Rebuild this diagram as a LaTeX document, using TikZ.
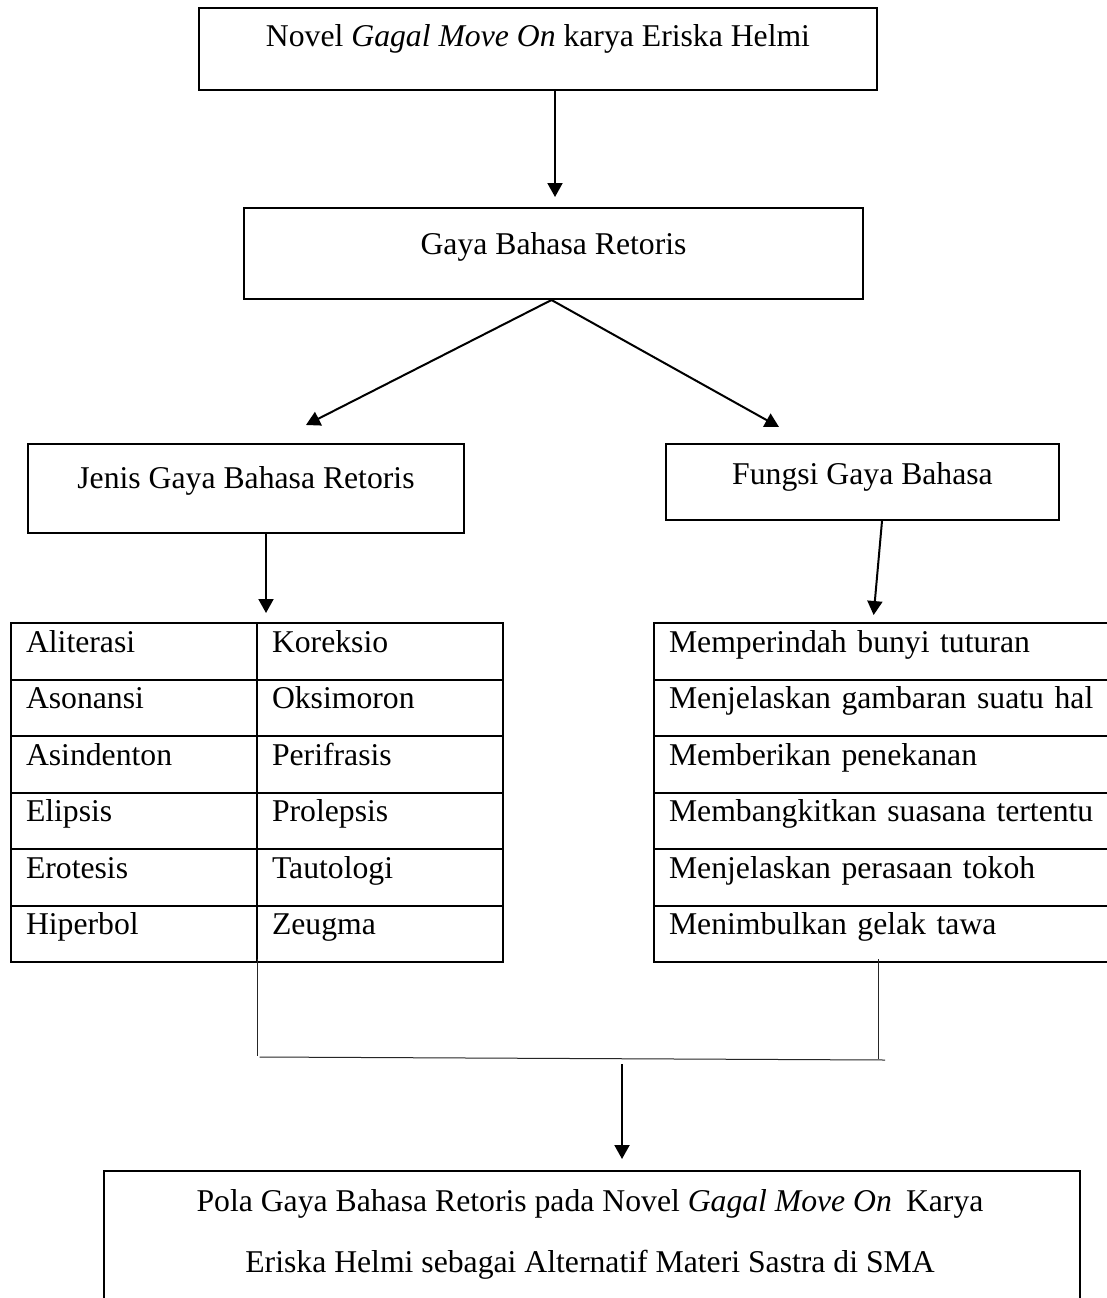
\documentclass[tikz,border=0pt]{standalone}
\usepackage{fontspec}
\setmainfont{Liberation Serif}
\usetikzlibrary{arrows.meta,calc}
\begin{document}
\begin{tikzpicture}[x=1pt,y=-1pt,
  every node/.style={font=\fontsize{31.7pt}{38pt}\selectfont},
  box/.style={draw,line width=2pt,anchor=north west,inner xsep=0pt,inner ysep=0pt},
  cell/.style={draw,line width=2pt,anchor=north west,inner xsep=15pt,inner ysep=0pt,
               text height=29pt,text depth=27.5pt,align=left},
  lcell/.style={cell,text width=216pt},
  rcell/.style={cell,text width=430pt},
  arr/.style={line width=2pt,-{Triangle[length=14pt,width=15pt]}},
  conn/.style={line width=1pt,black!85}]
\useasboundingbox (0,0) rectangle (1106,1298);
\fill[white] (0,0) rectangle (1106,1298);

% boxes
\node[box,minimum width=678pt,text height=39pt,text depth=43pt] (box1) at (198,7)
  {Novel \textit{Gagal Move On} karya Eriska Helmi};
\node[box,minimum width=619pt,text height=46pt,text depth=45pt] (box2) at (243,207)
  {Gaya Bahasa Retoris};
\node[box,minimum width=436pt,text height=44pt,text depth=45pt] (box3) at (27,443)
  {Jenis Gaya Bahasa Retoris};
\node[box,minimum width=393pt,text height=40pt,text depth=36pt] (box4) at (665,443)
  {Fungsi Gaya Bahasa};
\node[box,minimum width=976pt,minimum height=200pt] (bot) at (103,1170) {};
\node[anchor=base,inner sep=0pt] (t1) at (590,1211)
  {Pola Gaya Bahasa Retoris pada Novel \textit{Gagal Move On}\hspace{14pt}Karya};
\node[anchor=base,inner sep=0pt] (t2) at (590,1272)
  {Eriska Helmi sebagai Alternatif Materi Sastra di SMA};

% tables
\foreach \i/\a/\b/\c [evaluate=\i as \yy using {622+56.5*(\i-1)}] in
  {1/Aliterasi/Koreksio/Memperindah bunyi tuturan,
   2/Asonansi/Oksimoron/Menjelaskan gambaran suatu hal,
   3/Asindenton/Perifrasis/Memberikan penekanan,
   4/Elipsis/Prolepsis/Membangkitkan suasana tertentu,
   5/Erotesis/Tautologi/Menjelaskan perasaan tokoh,
   6/Hiperbol/Zeugma/Menimbulkan gelak tawa}{
  \node[lcell] (L\i) at (10,\yy) {\a};
  \node[lcell] (M\i) at (256,\yy) {\b};
  \node[rcell] (R\i) at (653,\yy) {\c};
}

% arrows
\draw[arr,shorten >=10pt] ([xshift=17pt]box1.south) -- ([xshift=17pt]box1.south |- box2.north);
\draw[arr] ([xshift=-2pt]box2.south) -- ([xshift=60pt,yshift=18pt]box3.north);
\draw[arr] ([xshift=-2pt]box2.south) -- ([xshift=-83.5pt,yshift=16pt]box4.north);
\draw[arr,shorten >=9pt] ([xshift=20pt]box3.south) -- ([xshift=20pt]box3.south |- L1.north);
\draw[arr,shorten >=7pt] ([xshift=19.5pt]box4.south) -- ([xshift=10.5pt]box4.south |- R1.north);

% joining lines
\coordinate (cl) at (257.5,1056);
\coordinate (cr) at (878,1059);
\draw[conn] ([yshift=4pt]cl |- M6.south) -- (cl);
\draw[conn] ([xshift=2pt,yshift=-1pt]cl) -- ([xshift=7pt,yshift=-1pt]cr);
\draw[conn] ([yshift=4pt]cr |- R6.south) -- (cr);
\coordinate (cm) at (622,1064);
\draw[arr,shorten >=11pt] (cm) -- (cm |- bot.north);
\end{tikzpicture}
\end{document}
